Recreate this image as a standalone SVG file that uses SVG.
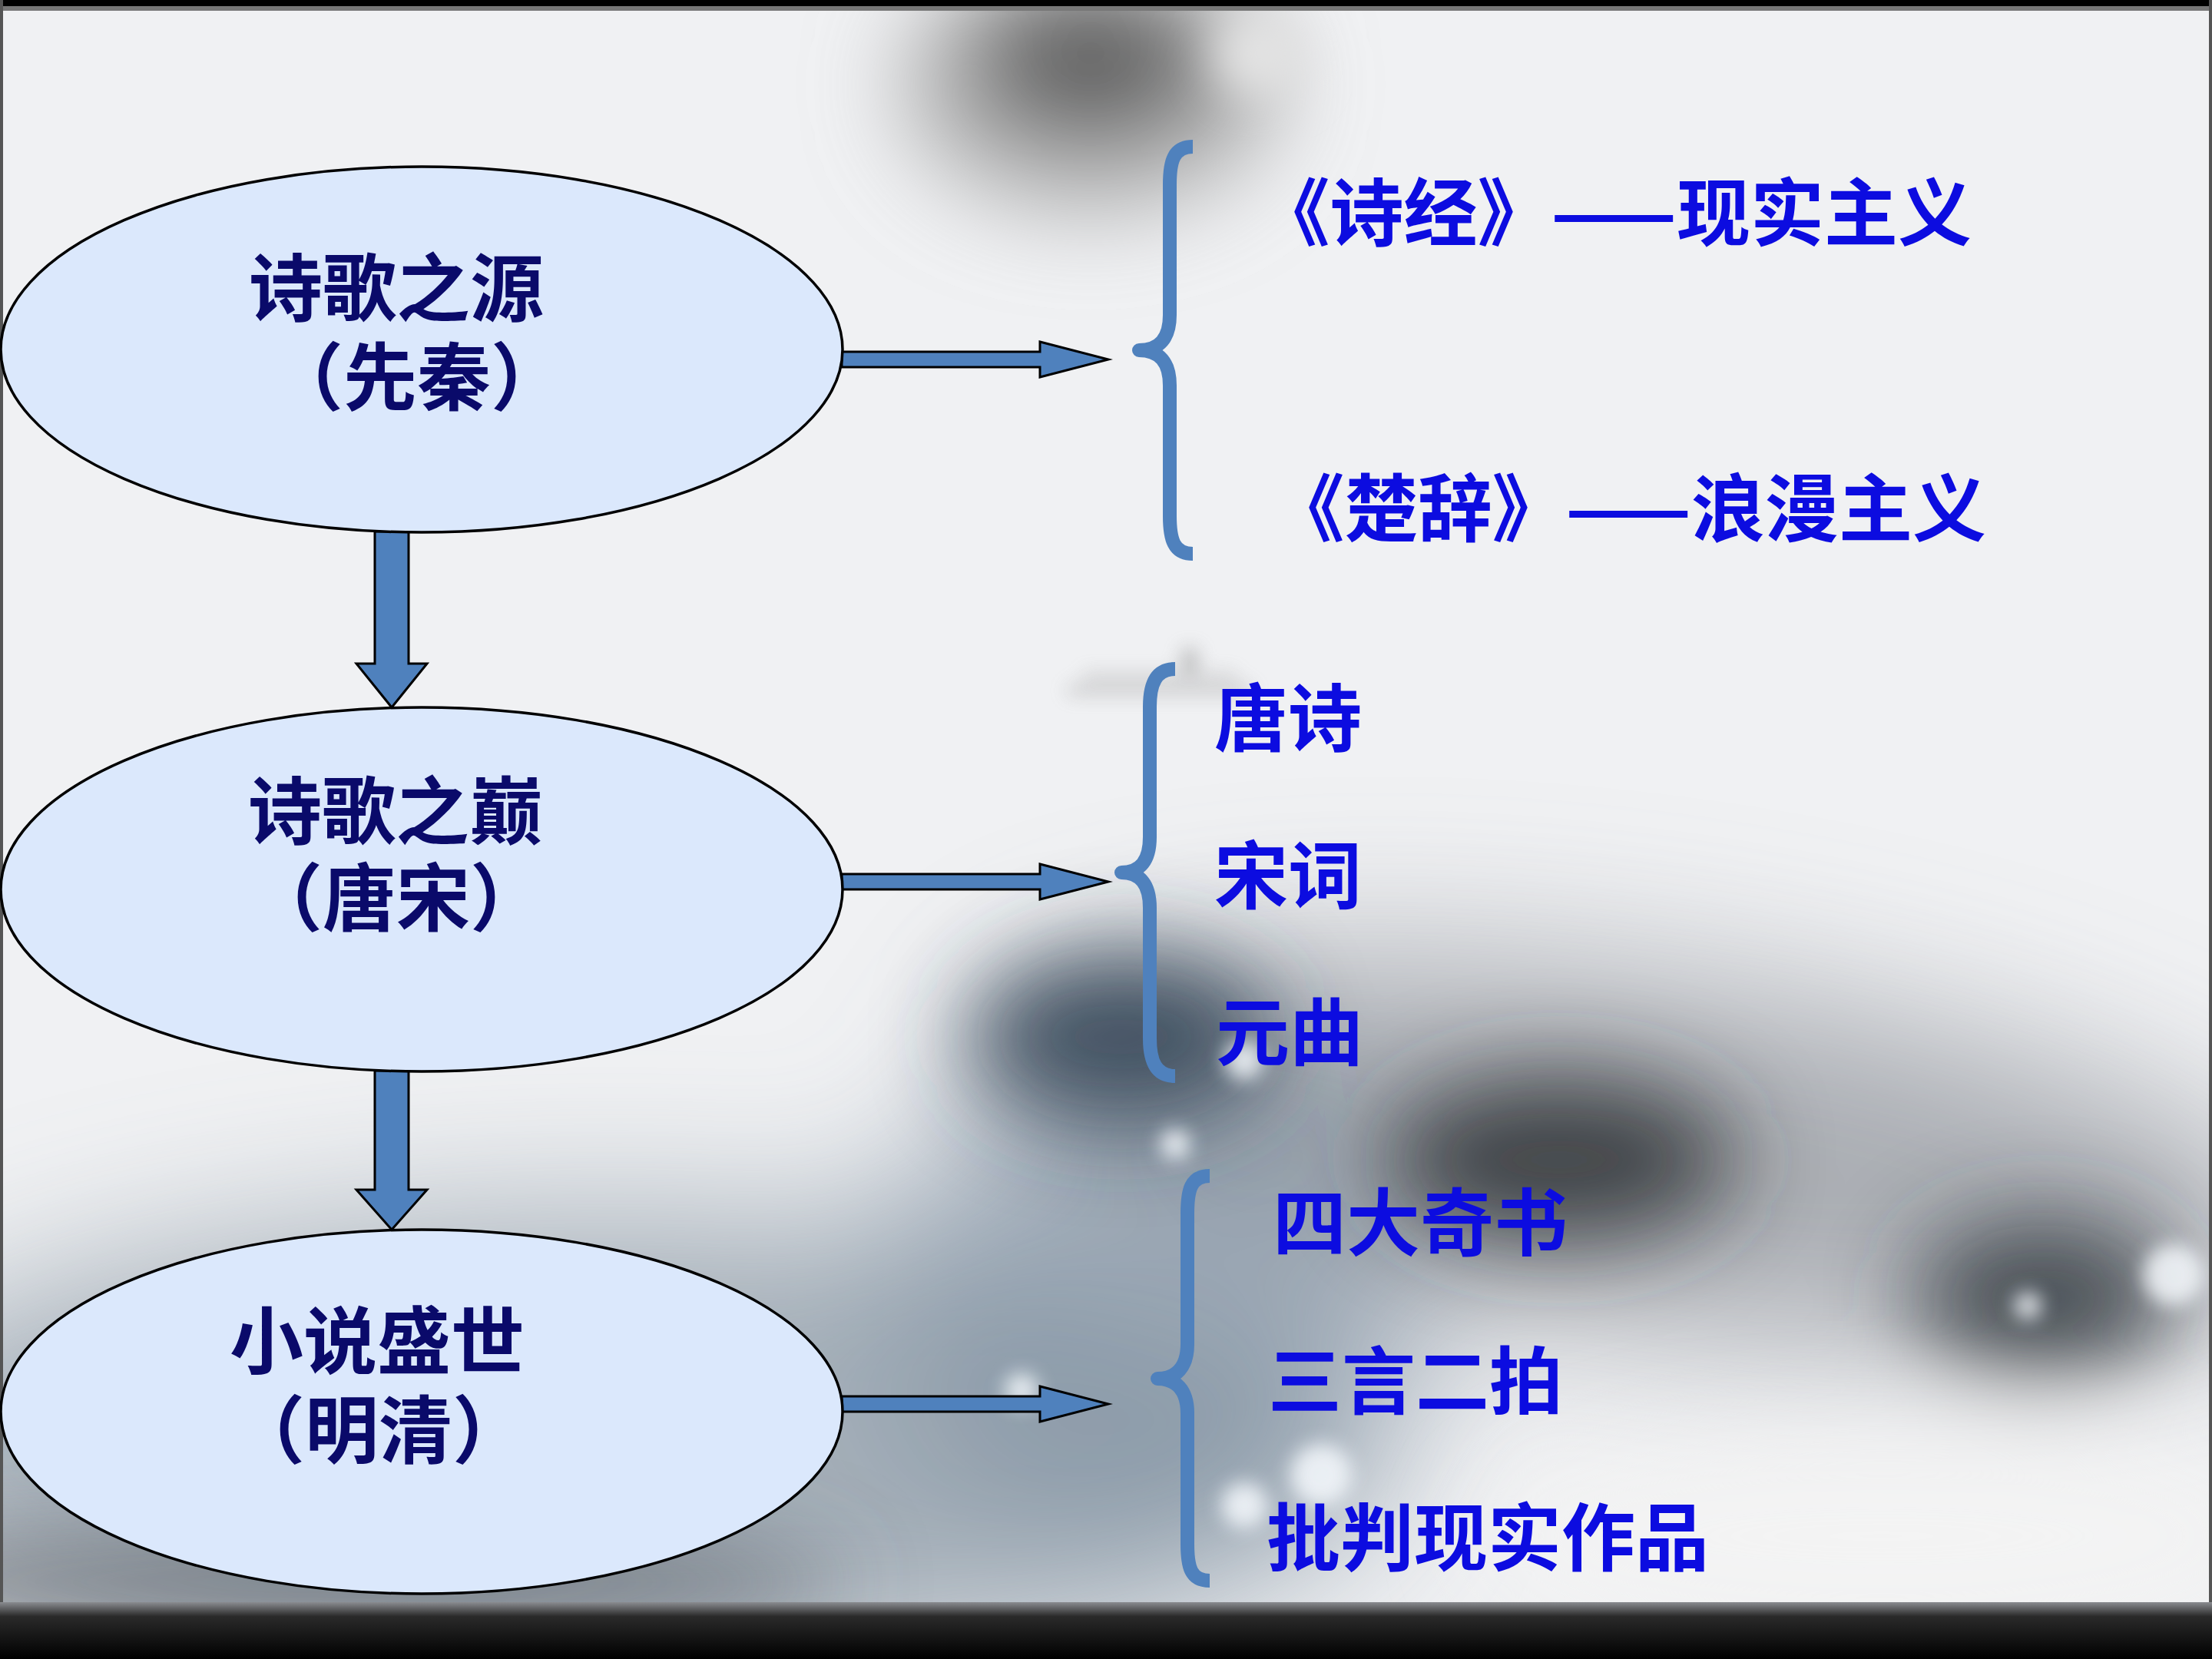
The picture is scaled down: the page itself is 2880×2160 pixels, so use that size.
<svg xmlns="http://www.w3.org/2000/svg" width="2880" height="2160" viewBox="0 0 2880 2160">
<defs>
<style>
.node ellipse{fill:#dbe8fc;stroke:#000;stroke-width:3.5}
.ntext{font-family:"Noto Sans CJK SC","Noto Sans CJK TC",sans-serif;font-weight:700;font-size:96px;fill:#0a0a6a;text-anchor:middle}
.rtext{font-family:"Noto Sans CJK SC","Noto Sans CJK TC",sans-serif;font-weight:700;font-size:96px;fill:#0c0ce0}
.blk{fill:#4f81bd;stroke:#000;stroke-width:3;stroke-linejoin:miter}
.brace{fill:none;stroke:#4f81bd;stroke-width:18;stroke-linejoin:round;stroke-linecap:butt}
</style>
<filter id="b30" x="-50%" y="-50%" width="200%" height="200%"><feGaussianBlur stdDeviation="30"/></filter>
<filter id="b60" x="-50%" y="-50%" width="200%" height="200%"><feGaussianBlur stdDeviation="60"/></filter>
<filter id="b100" x="-50%" y="-50%" width="200%" height="200%"><feGaussianBlur stdDeviation="100"/></filter>
<filter id="b12" x="-50%" y="-50%" width="200%" height="200%"><feGaussianBlur stdDeviation="12"/></filter>
<linearGradient id="botbar" x1="0" y1="0" x2="0" y2="1">
<stop offset="0" stop-color="#8a8c90"/><stop offset="0.25" stop-color="#2a2a2a"/><stop offset="1" stop-color="#000"/>
</linearGradient>
</defs>

<g id="background">
<rect x="0" y="0" width="2880" height="2160" fill="#f0f1f3"/>
<g filter="url(#b60)">
<ellipse cx="1420" cy="110" rx="250" ry="170" fill="#9a9a9a" opacity="0.7"/>
<ellipse cx="1420" cy="80" rx="150" ry="95" fill="#4c4c4c" opacity="0.8"/>
</g>
<ellipse cx="1640" cy="70" rx="60" ry="55" fill="#e4e4e4" filter="url(#b30)"/>
<g filter="url(#b100)">
<ellipse cx="2150" cy="1500" rx="850" ry="230" fill="#8d9298" opacity="0.7" transform="rotate(8 2150 1500)"/>
<ellipse cx="800" cy="1880" rx="1000" ry="300" fill="#8c99a6" opacity="0.75"/>
<ellipse cx="1500" cy="1700" rx="350" ry="350" fill="#7d8ea0" opacity="0.6"/>
</g>
<g filter="url(#b60)">
<ellipse cx="1460" cy="1350" rx="200" ry="110" fill="#2f3e52" opacity="0.85"/>
<ellipse cx="2030" cy="1510" rx="230" ry="110" fill="#2e3236" opacity="0.85"/>
<ellipse cx="2660" cy="1690" rx="170" ry="100" fill="#34383e" opacity="0.85"/>
<ellipse cx="2450" cy="2000" rx="520" ry="140" fill="#f3f3f3" opacity="0.9"/>
<ellipse cx="400" cy="2060" rx="700" ry="70" fill="#5e646c" opacity="0.7"/>
</g>
<g filter="url(#b12)" fill="#f4f8fc" opacity="0.85">
<circle cx="1330" cy="1810" r="22"/>
<circle cx="1530" cy="1490" r="20"/>
<circle cx="1620" cy="1380" r="26"/>
<circle cx="2640" cy="1700" r="18"/>
<circle cx="2830" cy="1660" r="40"/>
<circle cx="1720" cy="1920" r="40"/>
<circle cx="1620" cy="1960" r="30"/>
</g>
<g filter="url(#b12)" fill="#8a8a8a" opacity="0.6">
<rect x="1390" y="895" width="240" height="8"/>
<rect x="1410" y="878" width="200" height="6"/>
<rect x="1540" y="845" width="18" height="30"/>
</g>
<rect x="0" y="0" width="2880" height="8" fill="#000"/>
<rect x="0" y="8" width="2880" height="6" fill="#777"/>
<rect x="0" y="0" width="4" height="2100" fill="#555"/>
<rect x="2876" y="0" width="4" height="2100" fill="#555"/>
<rect x="0" y="2086" width="2880" height="74" fill="url(#botbar)"/>
</g>

<g id="connectors">
<polygon class="blk" points="488,692 532,692 532,864 556,864 510,921 464,864 488,864"/>
<polygon class="blk" points="488,1394 532,1394 532,1549 556,1549 510,1601 464,1549 488,1549"/>
<polygon class="blk" points="1096,458 1354,458 1354,445 1443,468 1354,491 1354,478 1096,478"/>
<polygon class="blk" points="1096,1138 1354,1138 1354,1125 1443,1148 1354,1171 1354,1158 1096,1158"/>
<polygon class="blk" points="1096,1818 1354,1818 1354,1805 1443,1828 1354,1851 1354,1838 1096,1838"/>
<path class="brace" d="M1553,191 C1528,191 1523,210 1523,240 L1523,410 C1523,440 1510,456 1483,456 C1510,456 1523,472 1523,502 L1523,672 C1523,702 1528,721 1553,721"/>
<path class="brace" d="M1530,871 C1505,871 1497,890 1497,920 L1497,1090 C1497,1120 1485,1136 1460,1136 C1485,1136 1497,1152 1497,1182 L1497,1352 C1497,1382 1505,1401 1530,1401"/>
<path class="brace" d="M1575,1531 C1550,1531 1546,1550 1546,1580 L1546,1750 C1546,1780 1532,1795 1507,1795 C1532,1795 1546,1810 1546,1840 L1546,2010 C1546,2040 1550,2058 1575,2058"/>
</g>

<g id="node-1" class="node">
<ellipse cx="549" cy="455" rx="548" ry="238"/>
<text class="ntext"><tspan x="516" y="410">诗歌之源</tspan><tspan x="543" y="526">（先秦）</tspan></text>
</g>
<g id="node-2" class="node">
<ellipse cx="549" cy="1158" rx="548" ry="237"/>
<text class="ntext"><tspan x="515" y="1091">诗歌之巅</tspan><tspan x="516" y="1204">（唐宋）</tspan></text>
</g>
<g id="node-3" class="node">
<ellipse cx="549" cy="1838" rx="548" ry="237"/>
<text class="ntext"><tspan x="491" y="1781">小说盛世</tspan><tspan x="493" y="1897">（明清）</tspan></text>
</g>

<g id="group-1">
<text class="rtext" x="2567" y="312" text-anchor="end">《诗经》——现实主义</text>
<text class="rtext" x="2586" y="697" text-anchor="end">《楚辞》——浪漫主义</text>
</g>
<g id="group-2">
<text class="rtext" x="1581" y="970">唐诗</text>
<text class="rtext" x="1581" y="1175">宋词</text>
<text class="rtext" x="1583" y="1379">元曲</text>
</g>
<g id="group-3">
<text class="rtext" x="1657" y="1627">四大奇书</text>
<text class="rtext" x="1651" y="1833">三言二拍</text>
<text class="rtext" x="1649" y="2037">批判现实作品</text>
</g>
</svg>
